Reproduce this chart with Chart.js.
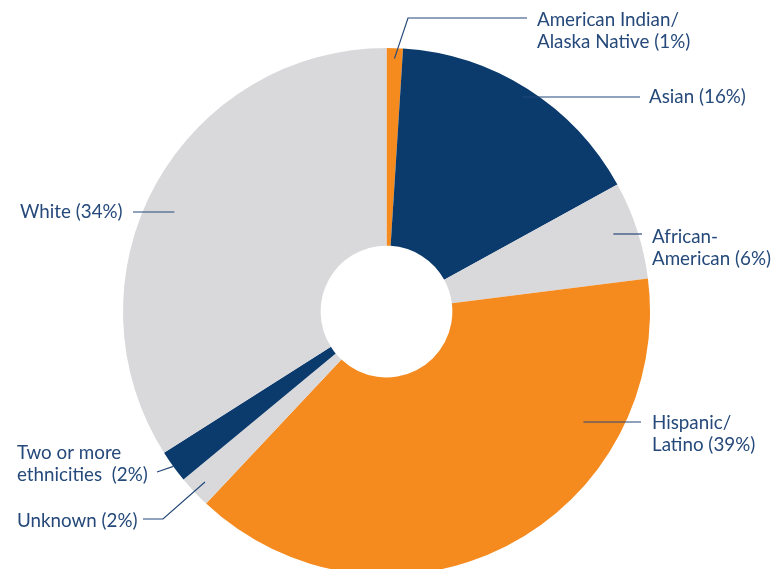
<!DOCTYPE html>
<html>
<head>
<meta charset="utf-8">
<script src="https://cdn.jsdelivr.net/npm/chart.js@4/dist/chart.umd.min.js"></script>
<style>
    html, body { margin: 0; padding: 0; background: #fff; overflow: hidden; }
    #wrap { width: 782px; height: 569px; position: relative; }
</style>
</head>
<body>
<div id="wrap"><canvas id="ethnicityChart"></canvas></div>
<script>
// Data
const categories = ['American Indian/Alaska Native', 'Asian', 'African-American', 'Hispanic/Latino', 'Unknown', 'Two or more ethnicities', 'White'];
const shares = [1, 16, 6, 39, 2, 2, 34];
const labelLines = [
    ['American Indian/', 'Alaska Native'],
    ['Asian'],
    ['African-', 'American'],
    ['Hispanic/', 'Latino'],
    ['Unknown'],
    ['Two or more', 'ethnicities '],
    ['White']
];

const ORANGE = '#f58a1f';
const NAVY = '#0b3b6d';
const GRAY = '#d9d9db';
const TEXT = '#25497a';
const sliceColors = [ORANGE, NAVY, GRAY, ORANGE, GRAY, NAVY, GRAY];

// Label placement (text anchor + leader route), one entry per slice
// t = position inside the slice (0..1), r = fraction of outer radius
const labelLayout = [
    { x: 537, y: 20, t: 0.5, r: 0.96, path: [[408, 18], [527, 18]] },
    { x: 649, y: 97, t: 0.5, hy: 97, hx: 640 },
    { x: 652, y: 237, t: 0.46, hy: 234, hx: 642 },
    { x: 652, y: 423, t: 0.26, hy: 422, hx: 641 },
    { x: 17, y: 521, t: 0.5, r: 0.945, path: [[163, 519], [143, 519]] },
    { x: 17, y: 453, t: 0.5, r: 1.0, path: [[157, 472]] },
    { x: 20, y: 212, t: 0.47, hy: 212, hx: 133 }
];

// Draw labels with leader lines
const leaderLabels = {
    id: 'leaderLabels',
    afterDatasetsDraw(chart) {
        const ctx = chart.ctx;
        const arcs = chart.getDatasetMeta(0).data;
        ctx.save();
        ctx.strokeStyle = TEXT;
        ctx.lineWidth = 1.2;
        ctx.fillStyle = TEXT;
        ctx.font = '18.8px Lato, "Open Sans", sans-serif';
        ctx.textBaseline = 'middle';
        ctx.textAlign = 'left';

        arcs.forEach((arc, i) => {
            const lay = labelLayout[i];
            const a = arc.startAngle + (arc.endAngle - arc.startAngle) * lay.t;
            const cos = Math.cos(a), sin = Math.sin(a);
            let pts;
            if (lay.hy !== undefined) {
                // horizontal leader: meet the slice ray at the leader's height
                const rr = (lay.hy - arc.y) / sin;
                pts = [[arc.x + rr * cos, lay.hy], [lay.hx, lay.hy]];
            } else {
                const rr = arc.outerRadius * lay.r;
                pts = [[arc.x + rr * cos, arc.y + rr * sin]].concat(lay.path);
            }
            ctx.beginPath();
            ctx.moveTo(pts[0][0], pts[0][1]);
            for (let k = 1; k < pts.length; k++) ctx.lineTo(pts[k][0], pts[k][1]);
            ctx.stroke();

            const lines = labelLines[i].slice();
            lines[lines.length - 1] += ' (' + shares[i] + '%)';
            lines.forEach((line, k) => {
                ctx.fillText(line, lay.x, lay.y + k * 21.5);
            });
        });
        ctx.restore();
    }
};

function initEthnicityChart() {
    const ctx = document.getElementById('ethnicityChart').getContext('2d');
    new Chart(ctx, {
        type: 'doughnut',
        data: {
            labels: categories,
            datasets: [{
                data: shares,
                backgroundColor: sliceColors,
                borderWidth: 0,
                radius: 263.5,
                clip: false
            }]
        },
        options: {
            responsive: true,
            maintainAspectRatio: false,
            animation: false,
            cutout: '25%',
            layout: {
                padding: { left: 123, right: 132, top: 54, bottom: 0 }
            },
            plugins: {
                legend: { display: false },
                tooltip: { enabled: false }
            }
        },
        plugins: [leaderLabels]
    });
}

document.addEventListener('DOMContentLoaded', function() {
    initEthnicityChart();
});
</script>
</body>
</html>
